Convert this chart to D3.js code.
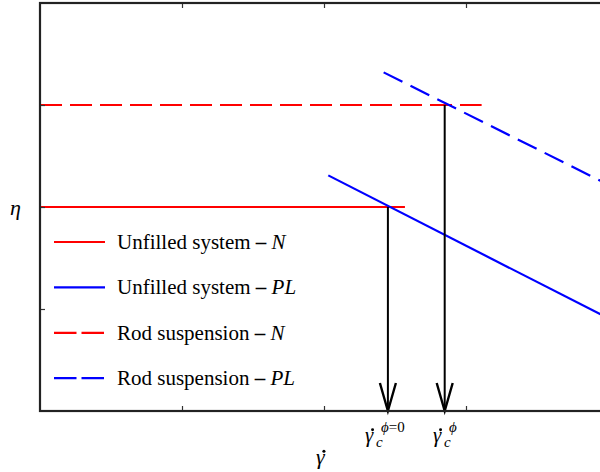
<!DOCTYPE html>
<html><head><meta charset="utf-8">
<script src="https://cdn.jsdelivr.net/npm/d3@7"></script>
<style>body{margin:0;background:#fff}svg{display:block}text{font-family:"Liberation Serif","Times New Roman",serif}</style>
</head><body>
<script>
// Data (x: shear rate, arbitrary units; y: viscosity, arbitrary units)
const xTicks = [1, 2, 3];
const yTicks = [1, 2, 3];
const unfilledN = [[0, 2.0], [2.57, 2.0]];
const unfilledPL = [[2.03, 2.31], [4.0, 0.91]];
const rodN = [[0, 3.0], [3.11, 3.0]];
const rodPL = [[2.42, 3.32], [4.0, 2.22]];
const arrowXs = [2.45, 2.85];
const arrowTops = [2.0, 3.0];
const legendLabels = [["Unfilled system", "N"], ["Unfilled system", "PL"], ["Rod suspension", "N"], ["Rod suspension", "PL"]];
const legendColors = ["#ff0000", "#0000ff", "#ff0000", "#0000ff"];
const legendDash = [false, false, true, true];

const W = 600, H = 472;
const m = {left: 40, top: 3, right: -8, bottom: 61};
const x = d3.scaleLinear().domain([0, 4]).range([m.left, W - m.right]);
const y = d3.scaleLinear().domain([0, 4]).range([H - m.bottom, m.top]);

const svg = d3.select("body").append("svg").attr("width", W).attr("height", H);

const line = d3.line().x(d => x(d[0])).y(d => y(d[1]));
const series = [
  {d: unfilledN, c: "#ff0000", dash: null},
  {d: unfilledPL, c: "#0000ff", dash: null},
  {d: rodN, c: "#ff0000", dash: "22,8"},
  {d: rodPL, c: "#0000ff", dash: "21,9"}
];
svg.selectAll("path.s").data(series).join("path").attr("class", "s")
  .attr("d", s => line(s.d)).attr("fill", "none").attr("stroke", s => s.c)
  .attr("stroke-width", 2.2).attr("stroke-dasharray", s => s.dash);

// arrows
arrowXs.forEach((ax, i) => {
  const px = x(ax), top = y(arrowTops[i]), bot = y(0);
  svg.append("line").attr("x1", px).attr("x2", px).attr("y1", top).attr("y2", bot)
    .attr("stroke", "#000").attr("stroke-width", 2);
  svg.append("path").attr("d", `M${px - 8},${bot - 28}L${px},${bot}L${px + 8},${bot - 28}`)
    .attr("fill", "none").attr("stroke", "#000").attr("stroke-width", 2.4);
});

// frame & ticks
svg.append("g").attr("transform", `translate(0,${y(0)})`)
  .call(d3.axisBottom(x).tickValues(xTicks).tickSize(-5).tickFormat(""))
  .call(g => g.select(".domain").remove());
svg.append("g").attr("transform", `translate(0,${y(4)})`)
  .call(d3.axisTop(x).tickValues(xTicks).tickSize(-5).tickFormat(""))
  .call(g => g.select(".domain").remove());
svg.append("g").attr("transform", `translate(${x(0)},0)`)
  .call(d3.axisLeft(y).tickValues(yTicks).tickSize(-5).tickFormat(""))
  .call(g => g.select(".domain").remove());
svg.selectAll(".tick line").attr("stroke", "#333").attr("stroke-width", 1.2);
svg.append("rect").attr("x", x(0)).attr("y", y(4)).attr("width", x(4) - x(0)).attr("height", y(0) - y(4))
  .attr("fill", "none").attr("stroke", "#222").attr("stroke-width", 2.2);

// legend
const lg = svg.append("g");
legendLabels.forEach((lab, i) => {
  const cy = 242 + i * 45.4;
  lg.append("line").attr("x1", 54).attr("x2", 105).attr("y1", cy).attr("y2", cy)
    .attr("stroke", legendColors[i]).attr("stroke-width", 2.2)
    .attr("stroke-dasharray", legendDash[i] ? "22.5,5" : null);
  const t = lg.append("text").attr("x", 117).attr("y", cy + 7).attr("font-size", 21).attr("fill", "#000");
  t.append("tspan").text(lab[0] + " ");
  t.append("tspan").attr("font-weight", "bold").text("\u2013");
  t.append("tspan").text(" ");
  t.append("tspan").attr("font-style", "italic").text(lab[1]);
});

// gamma-dot helper: gamma glyph with a small dot accent drawn above it
function gammaDot(px, py, size) {
  svg.append("text").attr("x", px).attr("y", py).attr("font-size", size).attr("font-style", "italic").text("\u03b3");
  svg.append("circle").attr("cx", px + size * 0.36).attr("cy", py - size * 0.58).attr("r", size * 0.07).attr("fill", "#000");
}

// axis labels
svg.append("text").attr("x", 10).attr("y", 215).attr("font-size", 22).attr("font-style", "italic").text("\u03b7");
gammaDot(316, 464, 22);

// critical shear rate labels
function critLabel(px, sup) {
  gammaDot(px, 442, 21);
  svg.append("text").attr("x", px + 11).attr("y", 447).attr("font-size", 15).attr("font-style", "italic").text("c");
  const s = svg.append("text").attr("x", px + 16).attr("y", 432).attr("font-size", 15);
  s.append("tspan").attr("font-style", "italic").text("\u03d5");
  if (sup) s.append("tspan").text(sup);
}
critLabel(365, "=0");
critLabel(433, "");
</script>
</body></html>
